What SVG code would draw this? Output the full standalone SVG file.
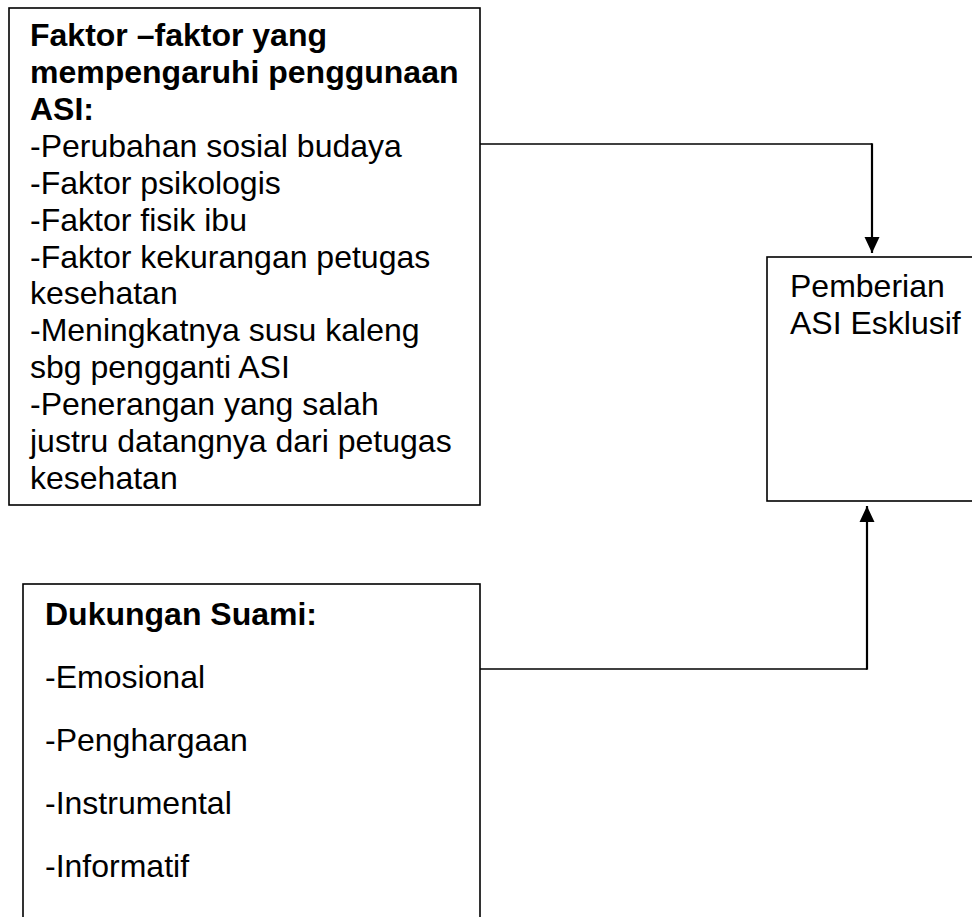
<svg xmlns="http://www.w3.org/2000/svg" width="972" height="917" viewBox="0 0 972 917">
<style>
.box{fill:#fff;stroke:#000;stroke-width:1.6}
.t{font-family:"Liberation Sans",Arial,sans-serif;font-size:32px;fill:#000}
.b{font-weight:bold}
.h{fill:none;stroke:#000;stroke-width:1.4}
.v{fill:none;stroke:#000;stroke-width:2.2}
</style>
<defs>
<marker id="arr" viewBox="0 0 16 16" refX="16" refY="8" markerWidth="16" markerHeight="16" markerUnits="userSpaceOnUse" orient="auto">
<path d="M0,0.5 L16,8 L0,15.5 z" fill="#000"/>
</marker>
</defs>
<rect width="972" height="917" fill="#fff"/>
<g id="connectors">
<path class="h" d="M480,144 H872"/>
<path class="v" d="M872,143.3 V253" marker-end="url(#arr)"/>
<path class="h" d="M480,669 H867"/>
<path class="v" d="M867,669.7 V506" marker-end="url(#arr)"/>
</g>
<g id="faktor">
<rect class="box" x="9" y="8" width="471" height="497"/>
<text class="t b" x="30" y="46">Faktor –faktor yang</text>
<text class="t b" x="30" y="82.9">mempengaruhi penggunaan</text>
<text class="t b" x="30" y="119.8">ASI:</text>
<text class="t" x="30" y="156.8">-Perubahan sosial budaya</text>
<text class="t" x="30" y="193.7">-Faktor psikologis</text>
<text class="t" x="30" y="230.6">-Faktor fisik ibu</text>
<text class="t" x="30" y="267.5">-Faktor kekurangan petugas</text>
<text class="t" x="30" y="304.4">kesehatan</text>
<text class="t" x="30" y="341.4">-Meningkatnya susu kaleng</text>
<text class="t" x="30" y="378.3">sbg pengganti ASI</text>
<text class="t" x="30" y="415.2">-Penerangan yang salah</text>
<text class="t" x="30" y="452.1">justru datangnya dari petugas</text>
<text class="t" x="30" y="489">kesehatan</text>
</g>
<g id="dukungan">
<rect class="box" x="23" y="584" width="457" height="350"/>
<text class="t b" x="45" y="625">Dukungan Suami:</text>
<text class="t" x="45" y="688">-Emosional</text>
<text class="t" x="45" y="751">-Penghargaan</text>
<text class="t" x="45" y="814">-Instrumental</text>
<text class="t" x="45" y="877">-Informatif</text>
</g>
<g id="pemberian">
<rect class="box" x="767" y="257" width="220" height="244"/>
<text class="t" x="790" y="297">Pemberian</text>
<text class="t" x="790" y="334">ASI Esklusif</text>
</g>
</svg>
